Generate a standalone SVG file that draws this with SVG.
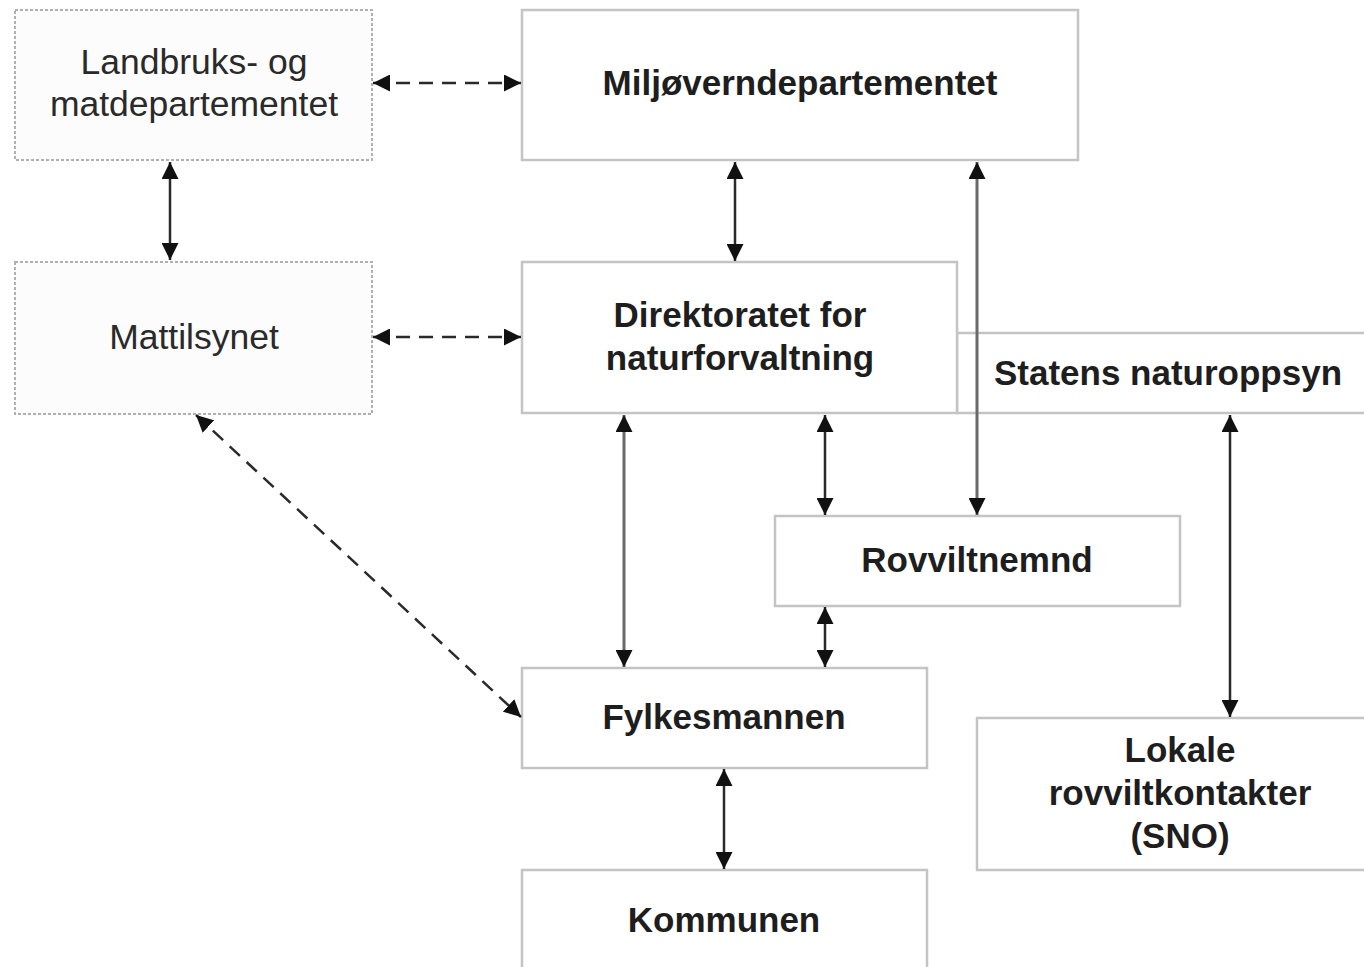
<svg xmlns="http://www.w3.org/2000/svg" width="1364" height="967" viewBox="0 0 1364 967">
<style>
.box{fill:#fff;stroke:#c4c4c4;stroke-width:2.5}
.dbox{fill:#fcfcfc;stroke:#b0b0b0;stroke-width:2;stroke-dasharray:3 2}
.t{font-family:"Liberation Sans",Arial,sans-serif;font-size:35px;font-weight:bold;fill:#1e1e1e;text-anchor:middle}
.tr{font-family:"Liberation Sans",Arial,sans-serif;font-size:35.5px;fill:#2a2a2a;text-anchor:middle}
.c{stroke:#2a2a2a;stroke-width:2.5;fill:none}
.cd{stroke:#2a2a2a;stroke-width:2.5;fill:none;stroke-dasharray:14 9}
.cg{stroke:#6a6a6a;stroke-width:3;fill:none}
</style>
<defs>
<marker id="a" viewBox="0 0 10 10" refX="10" refY="5" markerWidth="17" markerHeight="17" markerUnits="userSpaceOnUse" orient="auto-start-reverse">
<path d="M0,0 L10,5 L0,10 z" fill="#111"/>
</marker>
</defs>
<rect width="1364" height="967" fill="#fff"/>
<g id="landbruk"><rect class="dbox" x="15" y="10" width="357" height="150"/><text class="tr" x="194" y="74">Landbruks- og</text><text class="tr" x="194" y="116">matdepartementet</text></g>
<g id="miljo"><rect class="box" x="522" y="10" width="556" height="150"/><text class="t" x="800" y="95">Miljøverndepartementet</text></g>
<g id="mattilsynet"><rect class="dbox" x="15" y="262" width="357" height="152"/><text class="tr" x="194" y="349">Mattilsynet</text></g>
<g id="statens"><rect class="box" x="957" y="333" width="420" height="80"/><text class="t" x="1168" y="385">Statens naturoppsyn</text></g>
<g id="direktoratet"><rect class="box" x="522" y="262" width="435" height="151"/><text class="t" x="740" y="327">Direktoratet for</text><text class="t" x="740" y="370">naturforvaltning</text></g>
<g id="rovviltnemnd"><rect class="box" x="775" y="516" width="405" height="90"/><text class="t" x="977" y="572">Rovviltnemnd</text></g>
<g id="fylkesmannen"><rect class="box" x="522" y="668" width="405" height="100"/><text class="t" x="724" y="729">Fylkesmannen</text></g>
<g id="kommunen"><rect class="box" x="522" y="870" width="405" height="110"/><text class="t" x="724" y="932">Kommunen</text></g>
<g id="lokale"><rect class="box" x="977" y="718" width="400" height="152"/><text class="t" x="1180" y="762">Lokale</text><text class="t" x="1180" y="805">rovviltkontakter</text><text class="t" x="1180" y="848">(SNO)</text></g>
<g id="connectors">
<line class="cd" x1="373" y1="83" x2="521" y2="83" marker-start="url(#a)" marker-end="url(#a)"/>
<line class="c" x1="170" y1="162" x2="170" y2="260" marker-start="url(#a)" marker-end="url(#a)"/>
<line class="cd" x1="373" y1="337" x2="521" y2="337" marker-start="url(#a)" marker-end="url(#a)"/>
<line class="cd" x1="196" y1="415" x2="521" y2="717" marker-start="url(#a)" marker-end="url(#a)"/>
<line class="c" x1="735" y1="162" x2="735" y2="261" marker-start="url(#a)" marker-end="url(#a)"/>
<line class="cg" x1="977" y1="162" x2="977" y2="515" marker-start="url(#a)" marker-end="url(#a)"/>
<line class="cg" x1="624" y1="415" x2="624" y2="667" marker-start="url(#a)" marker-end="url(#a)"/>
<line class="c" x1="825" y1="415" x2="825" y2="515" marker-start="url(#a)" marker-end="url(#a)"/>
<line class="c" x1="825" y1="607" x2="825" y2="667" marker-start="url(#a)" marker-end="url(#a)"/>
<line class="c" x1="724" y1="769" x2="724" y2="869" marker-start="url(#a)" marker-end="url(#a)"/>
<line class="c" x1="1230" y1="415" x2="1230" y2="717" marker-start="url(#a)" marker-end="url(#a)"/>
</g>
</svg>
